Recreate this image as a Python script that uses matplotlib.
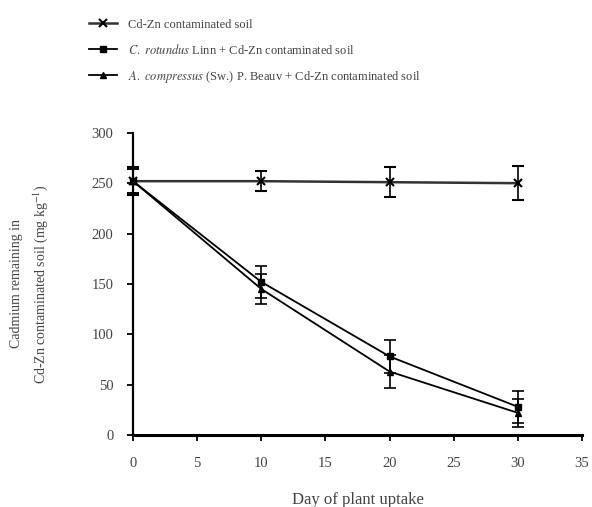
import matplotlib
matplotlib.use("Agg")
import matplotlib.pyplot as plt
from matplotlib.lines import Line2D

plt.rcParams['font.family'] = ['Liberation Serif', 'DejaVu Serif']
plt.rcParams['mathtext.fontset'] = 'stix'

# values
days = [0, 10, 20, 30]
cdzn = [252, 252, 251, 250]
cdzn_err = [14, 10, 15, 17]
rotundus = [252, 152, 78, 28]
rotundus_err = [12, 16, 16, 16]
compressus = [252, 145, 63, 22]
compressus_err = [12, 15, 16, 14]

labels = ['Cd-Zn contaminated soil',
          r'$\it{C.\ rotundus}$ Linn + Cd-Zn contaminated soil',
          r'$\it{A.\ compressus}$ (Sw.) P. Beauv + Cd-Zn contaminated soil']

fig = plt.figure(figsize=(5.92, 5.07), dpi=100)
ax = fig.add_axes([0.2247, 0.142, 0.7583, 0.596])

txt = '#444444'
styles = [dict(color='#333333', lw=1.8, marker='x', ms=6, mew=1.5, mec='black'),
          dict(color='black', lw=1.3, marker='s', ms=4.5),
          dict(color='black', lw=1.3, marker='^', ms=5)]
series = [(cdzn, cdzn_err), (rotundus, rotundus_err), (compressus, compressus_err)]

for (vals, err), st in zip(series, styles):
    ax.errorbar(days, vals, yerr=err, ecolor='black', elinewidth=1.2, capsize=4,
                capthick=1.2, zorder=3, clip_on=False, **st)

ax.set_xlim(0, 35)
ax.set_ylim(0, 300)
ax.set_xticks(range(0, 36, 5))
ax.set_yticks(range(0, 301, 50))
ax.spines['top'].set_visible(False)
ax.spines['right'].set_visible(False)
ax.spines['left'].set_linewidth(1.6)
ax.spines['bottom'].set_linewidth(2.2)
ax.tick_params(direction='out', length=4, width=1.3, labelsize=10.5, labelcolor=txt)
ax.tick_params(axis='y', pad=10)
ax.tick_params(axis='x', pad=12)

ax.set_xlabel('Day of plant uptake', fontsize=12, color=txt, labelpad=16)
ax.set_ylabel('Cadmium remaining in\nCd-Zn contaminated soil (mg kg$^{-1}$)',
              fontsize=10, color=txt, labelpad=30, linespacing=1.6)

handles = [Line2D([], [], **st) for st in styles]
fig.legend(handles, labels, loc='upper left', bbox_to_anchor=(0.132, 0.985), frameon=False,
           fontsize=9, handlelength=2.2, handletextpad=0.9, labelspacing=0.95,
           labelcolor=txt)

fig.savefig('out.png', dpi=100, facecolor='white')
